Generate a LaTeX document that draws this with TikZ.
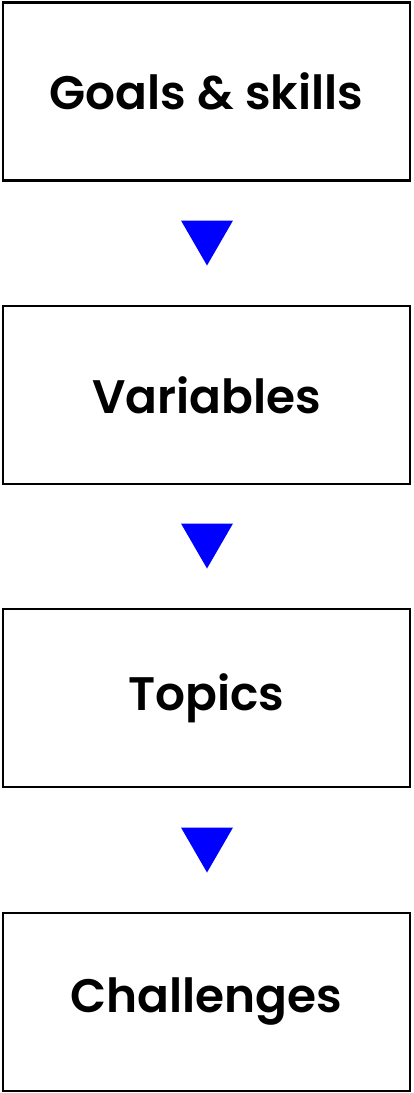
\documentclass[tikz,border=0pt]{standalone}
\usepackage{fontspec}
\setmainfont{Poppins SemiBold}
\usetikzlibrary{shapes.geometric}
\begin{document}
\begin{tikzpicture}[x=1pt,y=-1pt,
  stepbox/.style={draw=black,line width=2.4pt,minimum width=407pt,minimum height=178pt,inner sep=0pt,font=\fontsize{47}{56}\selectfont},
  tri/.style={fill=blue,draw=none}]
\useasboundingbox (0,0) rectangle (413,1093);
\node[stepbox] (b1) at (206.5,91.5) {Goals \& skills};
\node[stepbox] (b2) at (206.5,395) {Variables};
\node[stepbox] (b3) at (206.5,698) {Topics};
\node[stepbox] (b4) at (206.5,1002) {Challenges};
\foreach \n/\y in {t1/220.5,t2/523.5,t3/827.5}{
  \coordinate (\n a) at (181,\y);
  \coordinate (\n b) at (233,\y);
  \coordinate (\n c) at (207,\y+45);
  \fill[tri] (\n a) -- (\n b) -- (\n c) -- cycle;
}
\end{tikzpicture}
\end{document}
